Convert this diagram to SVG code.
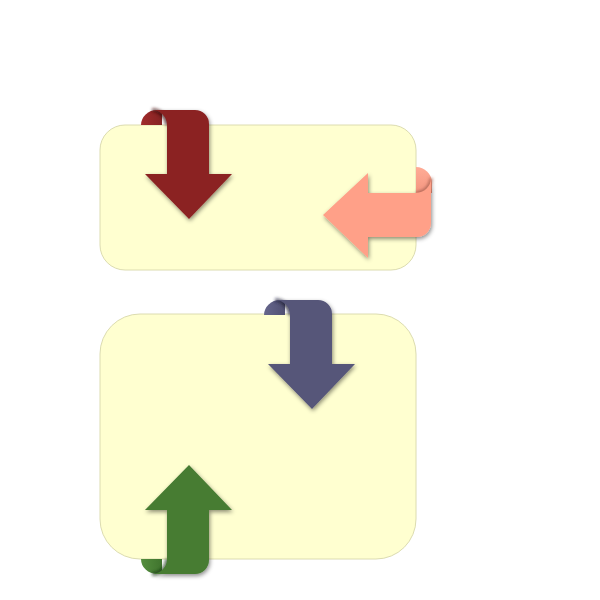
<svg xmlns="http://www.w3.org/2000/svg" width="600" height="600" viewBox="0 0 600 600">
<defs>
<style>
.box{fill:#ffffd0;stroke:#dcdcb0;stroke-width:1}
.fold{fill:none;stroke-width:4;stroke-opacity:0.6;filter:url(#bl)}
</style>
<filter id="sh" x="-20%" y="-20%" width="140%" height="140%">
<feDropShadow dx="1" dy="2" stdDeviation="2" flood-color="#000" flood-opacity="0.45"/>
</filter>
<filter id="bl" x="-50%" y="-50%" width="200%" height="200%">
<feGaussianBlur stdDeviation="1.5"/>
</filter>
<linearGradient id="gRed" x1="0" y1="0" x2="1" y2="0">
<stop offset="0" stop-color="#a02b2b"/><stop offset="1" stop-color="#852222"/>
</linearGradient>
<linearGradient id="gBlue" x1="0" y1="0" x2="1" y2="0">
<stop offset="0" stop-color="#66668c"/><stop offset="1" stop-color="#505072"/>
</linearGradient>
<linearGradient id="gGreen" x1="0" y1="0" x2="1" y2="0">
<stop offset="0" stop-color="#548e3e"/><stop offset="1" stop-color="#40742e"/>
</linearGradient>
<linearGradient id="gSalmon" x1="0" y1="0" x2="0" y2="1">
<stop offset="0" stop-color="#ffac96"/><stop offset="1" stop-color="#f49680"/>
</linearGradient>
</defs>
<g id="node-top">
<rect class="box" x="100" y="125" width="316" height="145" rx="25" ry="25"/>
</g>
<g id="node-bottom">
<rect class="box" x="100" y="314" width="316" height="245" rx="40" ry="40"/>
</g>
<g id="connectors">
<g id="arrow-red">
<path d="M141,125 A16,15 0 0 1 157,110 H162 V125 Z" fill="url(#gRed)"/>
<path class="fold" d="M152,110 A15,15 0 0 1 167,125" stroke="#3e0c0c"/>
<path d="M167,125 A15,15 0 0 0 152,110 H195 A14,14 0 0 1 209,124 V174 H232 L189,219 L145,174 H167 Z" fill="#8b2424" filter="url(#sh)"/>
</g>
<g id="arrow-salmon">
<path d="M416,167 A16,16 0 0 1 432,183 V193 H416 Z" fill="url(#gSalmon)"/>
<path class="fold" d="M416,193 A15,15 0 0 0 431,178" stroke="#a05848"/>
<path d="M416,193 A15,15 0 0 0 431,178 V223 A14,14 0 0 1 417,237 H368 V258 L323,215 L368,173 V193 Z" fill="#ffa088" filter="url(#sh)"/>
</g>
<g id="arrow-blue">
<path d="M264,315 A16,15 0 0 1 280,300 H285 V315 Z" fill="url(#gBlue)"/>
<path class="fold" d="M275,300 A15,15 0 0 1 290,315" stroke="#22223a"/>
<path d="M290,315 A15,15 0 0 0 275,300 H318 A14,14 0 0 1 332,314 V364 H355 L312,409 L268,364 H290 Z" fill="#565679" filter="url(#sh)"/>
</g>
<g id="arrow-green">
<path d="M141,559 A16,15 0 0 0 157,574 H162 V559 Z" fill="url(#gGreen)"/>
<path class="fold" d="M152,574 A15,15 0 0 0 167,559" stroke="#17300f"/>
<path d="M167,559 A15,15 0 0 1 152,574 H195 A14,14 0 0 0 209,560 V510 H232 L189,465 L145,510 H167 Z" fill="#467b33" filter="url(#sh)"/>
</g>
</g>
</svg>
